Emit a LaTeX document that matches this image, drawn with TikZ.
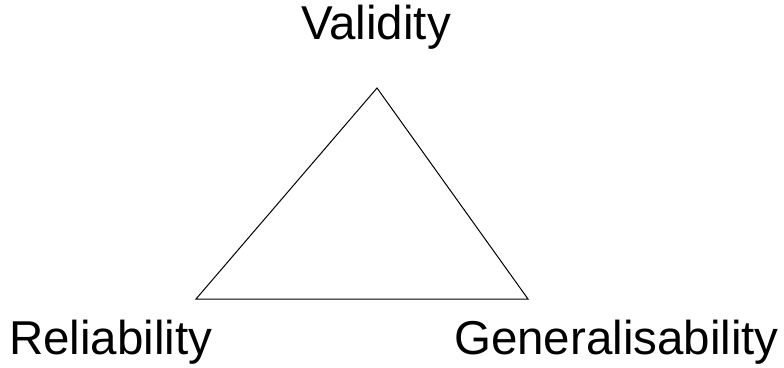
\documentclass[tikz,border=0pt]{standalone}
\usepackage{fontspec}
\setmainfont{Liberation Sans}
\begin{document}
\begin{tikzpicture}[x=1pt,y=1pt,
  lbl/.style={inner sep=0pt,font=\fontsize{47.5}{57}\selectfont}]
\useasboundingbox (0,0) rectangle (784,367);
\coordinate (top) at (377,279);
\coordinate (bl) at (196,68);
\coordinate (br) at (528,68);
\draw[line width=1pt,line join=miter] (top) -- (bl) -- (br) -- cycle;
\node[lbl,anchor=base] (val) at (376,327.5) {Validity};
\node[lbl,anchor=base west] (rel) at (9,13) {Reliability};
\node[lbl,anchor=base east] (gen) at (779,13) {Generalisability};
\end{tikzpicture}
\end{document}
